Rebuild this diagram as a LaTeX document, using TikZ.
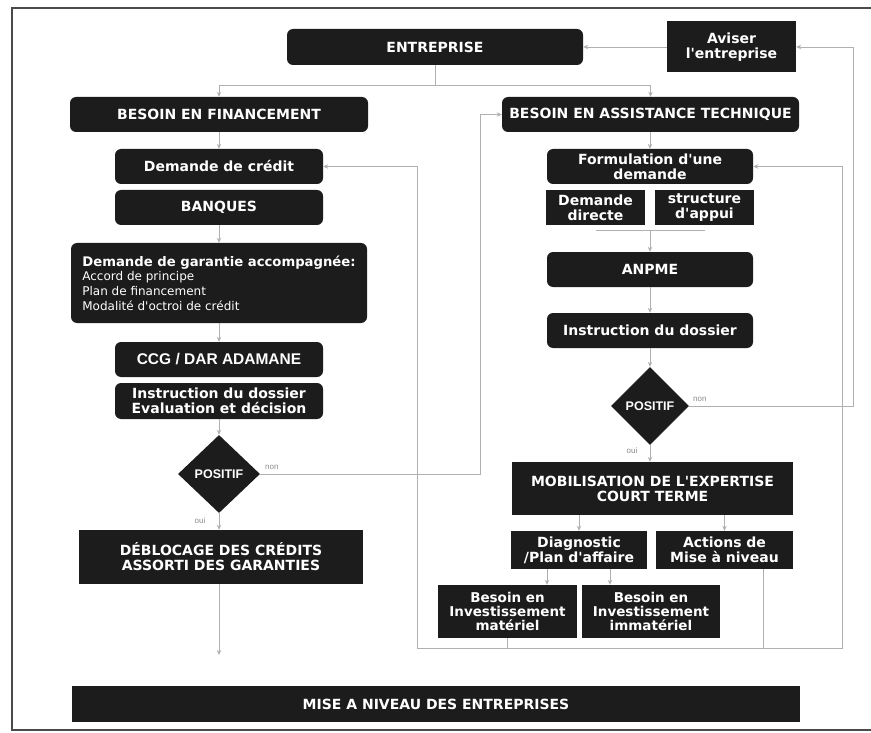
\documentclass[tikz,border=0pt]{standalone}
\usepackage{fontspec}
\usetikzlibrary{shapes.geometric,arrows.meta}
\newfontfamily\dvs{DejaVu Sans}
\newfontfamily\lib{Liberation Sans}
\newcommand\reglfont{\mdseries\fontsize{12}{13}\selectfont}
\definecolor{boxc}{HTML}{1C1C1C}
\definecolor{linec}{HTML}{B0B0B0}
\definecolor{labc}{HTML}{8A8A8A}
\definecolor{framec}{HTML}{4A4A4A}
\tikzset{
  box/.style={fill=boxc, text=white, font=\dvs\bfseries\fontsize{14}{15}\selectfont, align=center, inner sep=2pt},
  rbox/.style={box, rounded corners=6pt},
  conn/.style={draw=linec, line width=0.8pt},
  arr/.style={conn, -{Stealth[length=5pt,width=4.5pt]}},
  dia/.style={diamond, fill=boxc, text=white, inner sep=0pt, font=\lib\bfseries\fontsize{12.5}{14}\selectfont},
  lab/.style={font=\lib\fontsize{8}{9}\selectfont, text=labc, inner sep=1pt}
}
\begin{document}
\begin{tikzpicture}[x=1pt,y=-1pt]
\useasboundingbox (0,0) rectangle (871,733);
% frame
\draw[framec, line width=1.5pt] (871,8) -- (12,8) -- (12,730) -- (871,730);
% nodes
\node[rbox, minimum width=296pt, minimum height=36pt] (ent) at (435,47) {ENTREPRISE};
\node[box, minimum width=129pt, minimum height=51pt] (avis) at (731.5,47) {Aviser\\l'entreprise};
\node[rbox, minimum width=298pt, minimum height=35pt] (bf) at (219,114.5) {BESOIN EN FINANCEMENT};
\node[rbox, minimum width=297pt, minimum height=35pt] (bat) at (650.5,114.5) {BESOIN EN ASSISTANCE TECHNIQUE};
\node[rbox, minimum width=208pt, minimum height=35pt] (cred) at (219,166.5) {Demande de crédit};
\node[rbox, minimum width=208pt, minimum height=35pt] (banq) at (219,207.5) {BANQUES};
\node[rbox, minimum width=206pt, minimum height=35pt] (form) at (650,166.5) {Formulation d'une\\demande};
\node[box, minimum width=99pt, minimum height=35pt] (dd) at (595.5,207.5) {Demande\\directe};
\node[box, minimum width=99pt, minimum height=35pt] (sa) at (704.5,207.5) {structure\\d'appui};
\node[rbox, minimum width=296pt, minimum height=80pt, align=left] (gar) at (219,283)
  {\fontsize{13.2}{15}\selectfont Demande de garantie accompagnée:\\[-1pt]
   \reglfont Accord de principe\\\reglfont Plan de financement\\\reglfont Modalité d'octroi de crédit};
\node[rbox, minimum width=206pt, minimum height=35pt] (anpme) at (650,269.5) {ANPME};
\node[rbox, minimum width=206pt, minimum height=35pt] (instr2) at (650,330.5) {Instruction du dossier};
\node[rbox, minimum width=208pt, minimum height=35pt, font=\lib\bfseries\fontsize{15.5}{17}\selectfont] (ccg) at (219,359.5) {CCG / DAR ADAMANE};
\node[rbox, minimum width=208pt, minimum height=36pt] (instr1) at (219,401) {Instruction du dossier\\Evaluation et décision};
\node[dia, minimum width=82pt, minimum height=78pt] (pos1) at (219,474) {POSITIF};
\node[dia, minimum width=78pt, minimum height=78pt] (pos2) at (650,406) {POSITIF};
\node[box, minimum width=284pt, minimum height=54pt] (debl) at (221,557) {DÉBLOCAGE DES CRÉDITS\\ASSORTI DES GARANTIES};
\node[box, minimum width=281pt, minimum height=53pt] (mob) at (652.5,488.5) {MOBILISATION DE L'EXPERTISE\\COURT TERME};
\node[box, minimum width=136pt, minimum height=38pt] (diag) at (579,550) {Diagnostic\\/Plan d'affaire};
\node[box, minimum width=137pt, minimum height=38pt] (act) at (724.5,550) {Actions de\\Mise à niveau};
\node[box, minimum width=139pt, minimum height=53pt, font=\dvs\bfseries\fontsize{13.5}{14}\selectfont] (mat) at (507.5,611.5) {Besoin en\\Investissement\\matériel};
\node[box, minimum width=138pt, minimum height=53pt, font=\dvs\bfseries\fontsize{13.5}{14}\selectfont] (immat) at (651,611.5) {Besoin en\\Investissement\\immatériel};
\node[box, minimum width=728pt, minimum height=36pt] (mise) at (436,704) {MISE A NIVEAU DES ENTREPRISES};
% helper coordinates
\coordinate (split) at (435,85);
\coordinate (xl) at (417,0);
\coordinate (xn) at (480,0);
\coordinate (xr) at (842,0);
\coordinate (xo) at (853,0);
\coordinate (xm) at (547,0);
\coordinate (xi) at (610,0);
\coordinate (xa) at (763,0);
\coordinate (by) at (0,648);
\coordinate (brk) at (650,230);
\coordinate (dend) at (219,655);
% connectors
\draw[conn] (ent.south) -- (split);
\draw[arr] (split) -| (bf.north);
\draw[arr] (split) -| (bat.north);
\draw[arr] (avis.west) -- (ent.east);
\draw[arr] (bf.south) -- (cred.north);
\draw[arr] (banq.south) -- (gar.north);
\draw[arr] (gar.south) -- (ccg.north);
\draw[arr] (instr1.south) -- (pos1.north);
\draw[arr] (pos1.south) -- (debl.north -| pos1.south);
\draw[arr] (debl.south -| dend) -- (dend);
\draw[arr] (pos1.east) -| (xn |- bat.west) -- (bat.west);
\draw[arr] (bat.south -| form.north) -- (form.north);
\draw[conn] (dd.south |- brk) -- (sa.south |- brk);
\draw[arr] (brk) -- (anpme.north);
\draw[arr] (anpme.south) -- (instr2.north);
\draw[arr] (instr2.south) -- (pos2.north);
\draw[arr] (pos2.south) -- (pos2.south |- mob.north);
\draw[arr] (pos2.east) -| (xo |- avis.east) -- (avis.east);
\draw[arr] (diag.north |- mob.south) -- (diag.north);
\draw[arr] (act.north |- mob.south) -- (act.north);
\draw[arr] (diag.south -| xm) -- (mat.north -| xm);
\draw[arr] (diag.south -| xi) -- (immat.north -| xi);
\draw[arr] (mat.south) -- (mat.south |- by) -| (xl |- cred.east) -- (cred.east);
\draw[arr] (act.south -| xa) -- (xa |- by) -| (xr |- form.east) -- (form.east);
\draw[conn] (mat.south |- by) -- (xa |- by);
% labels
\node[lab, anchor=south west] (l1) at (264,471) {non};
\node[lab, anchor=north] (l2) at (200,517) {oui};
\node[lab, anchor=south west] (l3) at (692,403) {non};
\node[lab, anchor=north] (l4) at (632,447) {oui};
\end{tikzpicture}
\end{document}
